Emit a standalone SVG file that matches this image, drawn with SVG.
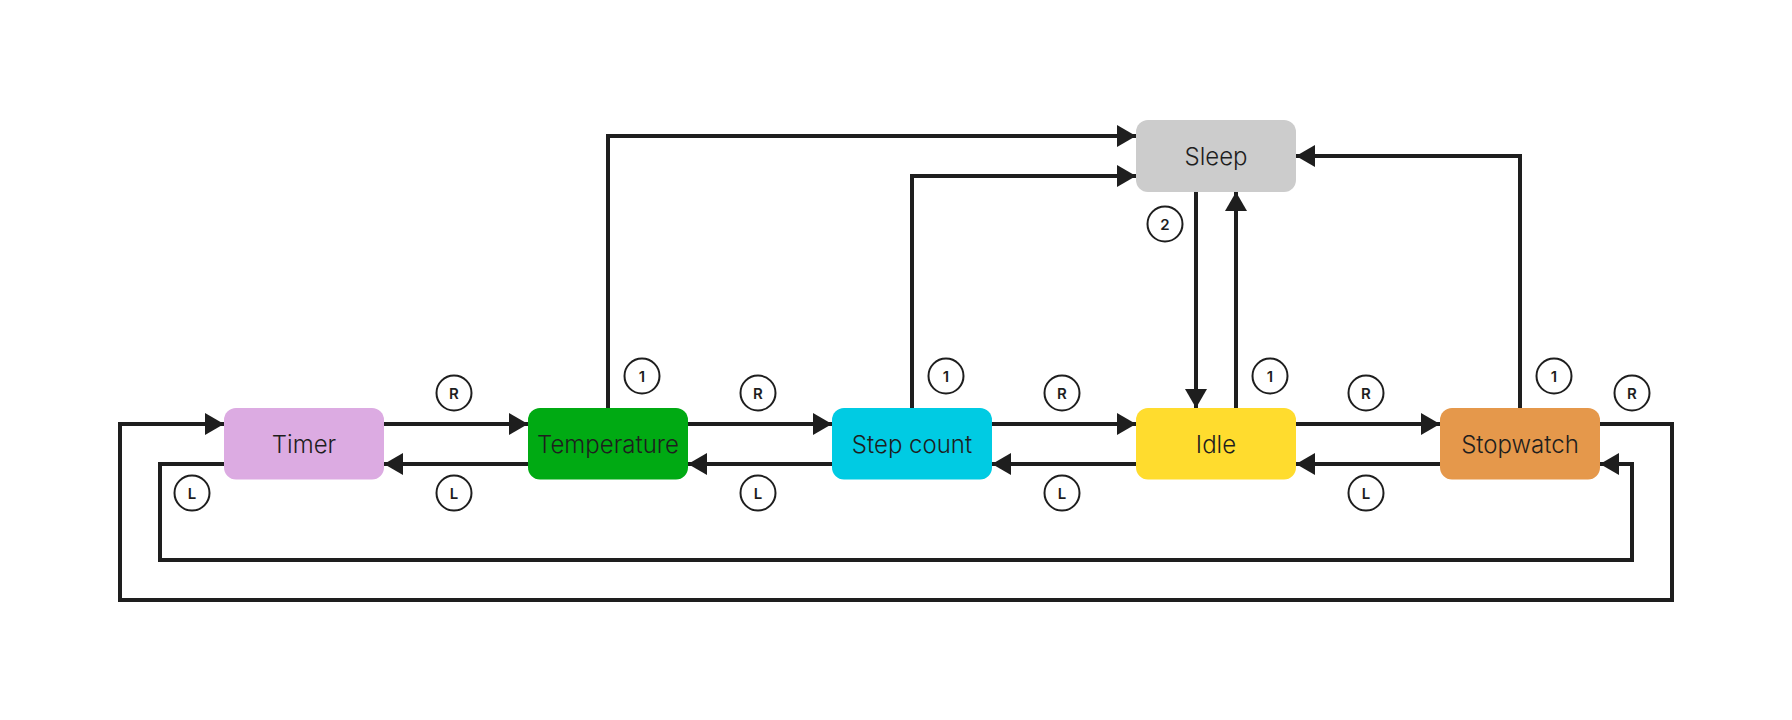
<svg xmlns="http://www.w3.org/2000/svg" width="1792" height="720" viewBox="0 0 1792 720">
<style>
.node text{font-family:Inter,"Noto Sans",sans-serif;font-size:24px;font-weight:300;fill:#1e1e1e;text-anchor:middle}
.edge{fill:none;stroke:#1e1e1e;stroke-width:4;marker-end:url(#ah)}
.lbl circle{fill:#fff;stroke:#1e1e1e;stroke-width:2}
.lbl text{font-family:Inter,"Noto Sans",sans-serif;font-size:15px;font-weight:600;fill:#1e1e1e;text-anchor:middle}
</style>
<defs>
<marker id="ah" markerUnits="userSpaceOnUse" markerWidth="19" markerHeight="22" refX="19" refY="11" orient="auto">
<path d="M0,0 L19,11 L0,22 z" fill="#1e1e1e"/>
</marker>
</defs>
<rect width="1792" height="720" fill="#fff"/>
<g id="connectors">
<path class="edge" d="M384,424 H528"/>
<path class="edge" d="M688,424 H832"/>
<path class="edge" d="M992,424 H1136"/>
<path class="edge" d="M1296,424 H1440"/>
<path class="edge" d="M528,464 H384"/>
<path class="edge" d="M832,464 H688"/>
<path class="edge" d="M1136,464 H992"/>
<path class="edge" d="M1440,464 H1296"/>
<path class="edge" d="M1600,424 H1672 V600 H120 V424 H224"/>
<path class="edge" d="M224,464 H160 V560 H1632 V464 H1600"/>
<path class="edge" d="M608,408 V136 H1136"/>
<path class="edge" d="M912,408 V176 H1136"/>
<path class="edge" d="M1520,408 V156 H1296"/>
<path class="edge" d="M1196,192 V408"/>
<path class="edge" d="M1236,408 V192"/>
</g>
<g id="labels">
<g class="lbl"><circle cx="454" cy="393" r="17.5"/><text x="454" y="398.5">R</text></g>
<g class="lbl"><circle cx="758" cy="393" r="17.5"/><text x="758" y="398.5">R</text></g>
<g class="lbl"><circle cx="1062" cy="393" r="17.5"/><text x="1062" y="398.5">R</text></g>
<g class="lbl"><circle cx="1366" cy="393" r="17.5"/><text x="1366" y="398.5">R</text></g>
<g class="lbl"><circle cx="1632" cy="393" r="17.5"/><text x="1632" y="398.5">R</text></g>
<g class="lbl"><circle cx="192" cy="493" r="17.5"/><text x="192" y="498.5">L</text></g>
<g class="lbl"><circle cx="454" cy="493" r="17.5"/><text x="454" y="498.5">L</text></g>
<g class="lbl"><circle cx="758" cy="493" r="17.5"/><text x="758" y="498.5">L</text></g>
<g class="lbl"><circle cx="1062" cy="493" r="17.5"/><text x="1062" y="498.5">L</text></g>
<g class="lbl"><circle cx="1366" cy="493" r="17.5"/><text x="1366" y="498.5">L</text></g>
<g class="lbl"><circle cx="642" cy="376" r="17.5"/><text x="642" y="381.5">1</text></g>
<g class="lbl"><circle cx="946" cy="376" r="17.5"/><text x="946" y="381.5">1</text></g>
<g class="lbl"><circle cx="1270" cy="376" r="17.5"/><text x="1270" y="381.5">1</text></g>
<g class="lbl"><circle cx="1554" cy="376" r="17.5"/><text x="1554" y="381.5">1</text></g>
<g class="lbl"><circle cx="1165" cy="224" r="17.5"/><text x="1165" y="229.5">2</text></g>
</g>
<g id="sleep" class="node"><rect x="1136" y="120" width="160" height="72" rx="12" fill="#cccccc"/><text x="1216" y="164.5">Sleep</text></g>
<g id="timer" class="node"><rect x="224" y="408" width="160" height="71.5" rx="12" fill="#dcabe2"/><text x="304" y="452.5">Timer</text></g>
<g id="temperature" class="node"><rect x="528" y="408" width="160" height="71.5" rx="12" fill="#00aa13"/><text x="608" y="452.5">Temperature</text></g>
<g id="stepcount" class="node"><rect x="832" y="408" width="160" height="71.5" rx="12" fill="#00cbe3"/><text x="912" y="452.5">Step count</text></g>
<g id="idle" class="node"><rect x="1136" y="408" width="160" height="71.5" rx="12" fill="#ffdc2e"/><text x="1216" y="452.5">Idle</text></g>
<g id="stopwatch" class="node"><rect x="1440" y="408" width="160" height="71.5" rx="12" fill="#e5984b"/><text x="1520" y="452.5">Stopwatch</text></g>
</svg>
